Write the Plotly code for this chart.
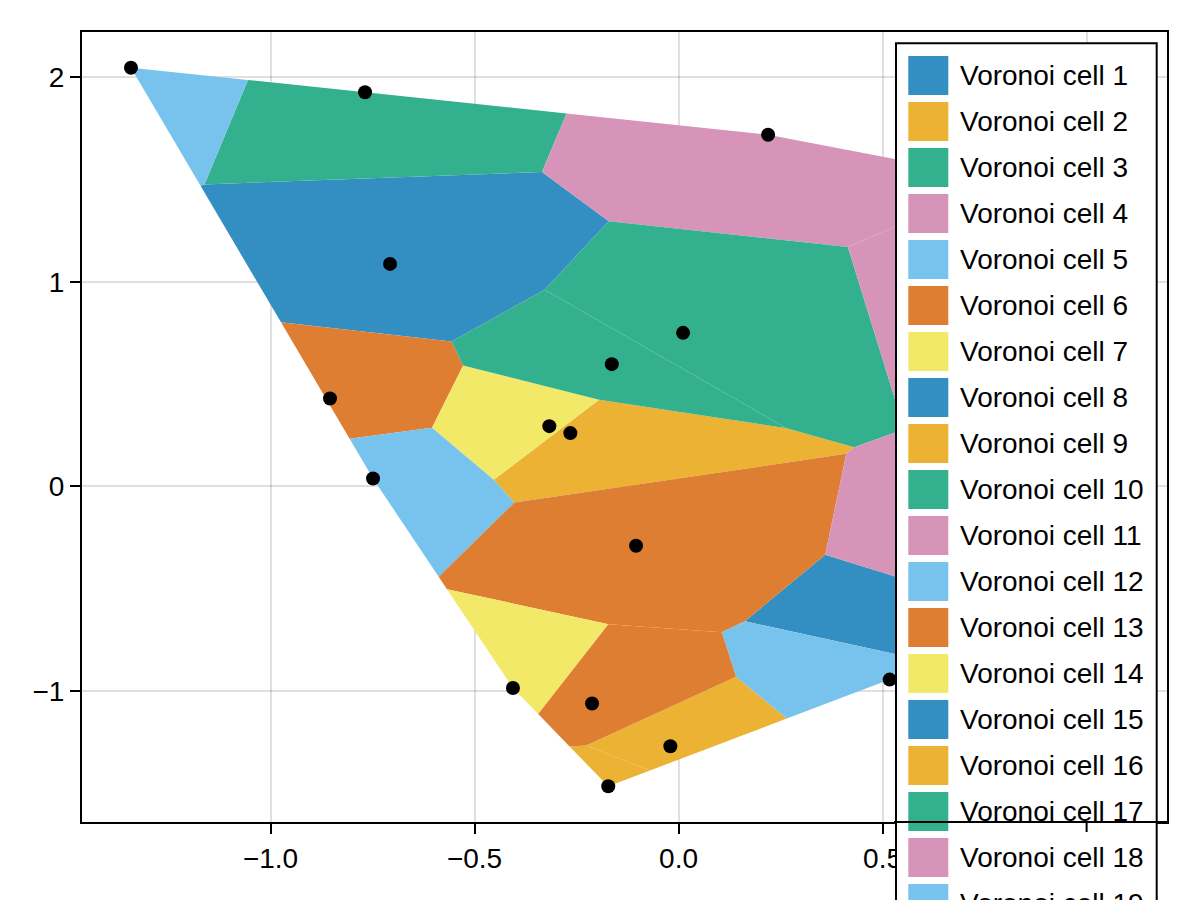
import numpy as np
import plotly.graph_objects as go

# ---- data ----
cell_x = [-0.7071, -0.2652, -0.7684, 0.2194, -1.342, -0.8542, -0.3167, 0.613, -0.0201, 0.0110,
          0.927, -0.7488, -0.1042, -0.4059, 1.0765, -0.1723, -0.1637, 0.822, 0.5172, -0.2120]
cell_y = [1.088, 0.261, 1.927, 1.719, 2.047, 0.430, 0.295, -0.724, -1.270, 0.751,
          0.893, 0.039, -0.290, -0.985, 1.393, -1.4655, 0.598, -0.387, -0.944, -1.061]
labels = [f"Voronoi cell {i}" for i in range(1, len(cell_x) + 1)]
palette = ["#338EC1", "#EBB233", "#33B18F", "#D694B9", "#78C3ED", "#DD7E33", "#F3E968"]
x_tickvals = [-1.0, -0.5, 0.0, 0.5, 1.0]
x_ticktext = ["\u22121.0", "\u22120.5", "0.0", "0.5", "1.0"]
y_tickvals = [-1, 0, 1, 2]
y_ticktext = ["\u22121", "0", "1", "2"]

FONT = "Liberation Sans, Arial, sans-serif"
W, H = 1200, 900
OFF = 8  # page body margin of the browser
# plot area wanted on screen: x 82..1167, y 32..822
SX0, SX1, SY0, SY1 = 82, 1167, 32, 822
L, T = SX0 - OFF, SY0 - OFF
R, B = W - (SX1 - OFF), H - (SY1 - OFF)
PW, PH = W - L - R, H - T - B


def px2paper_x(px):
    return (px - SX0) / PW


def px2paper_y(py):
    return (SY1 - py) / PH


def convex_hull(pts):
    pts = sorted(map(tuple, pts))

    def cross(o, a, b):
        return (a[0] - o[0]) * (b[1] - o[1]) - (a[1] - o[1]) * (b[0] - o[0])

    lower, upper = [], []
    for p in pts:
        while len(lower) >= 2 and cross(lower[-2], lower[-1], p) <= 0:
            lower.pop()
        lower.append(p)
    for p in reversed(pts):
        while len(upper) >= 2 and cross(upper[-2], upper[-1], p) <= 0:
            upper.pop()
        upper.append(p)
    return [np.array(p) for p in lower[:-1] + upper[:-1]]


def clip(poly, n, c):
    out = []
    k = len(poly)
    for i in range(k):
        P, Q = poly[i], poly[(i + 1) % k]
        fp, fq = P @ n - c, Q @ n - c
        if fp <= 0:
            out.append(P)
        if fp * fq < 0:
            t = fp / (fp - fq)
            out.append(P + t * (Q - P))
    return out


pts = np.column_stack([cell_x, cell_y])
hull = convex_hull(pts)

fig = go.Figure()
for i, p in enumerate(pts):
    poly = list(hull)
    for j, q in enumerate(pts):
        if i == j:
            continue
        n = q - p
        m = (p + q) / 2
        poly = clip(poly, n, m @ n)
        if not poly:
            break
    xs = [v[0] for v in poly] + [poly[0][0]]
    ys = [v[1] for v in poly] + [poly[0][1]]
    col = palette[i % len(palette)]
    fig.add_trace(go.Scatter(x=xs, y=ys, mode="lines", fill="toself", fillcolor=col,
                             line=dict(width=0, color=col), hoverinfo="skip",
                             showlegend=False, name=labels[i]))

fig.add_trace(go.Scatter(x=cell_x, y=cell_y, mode="markers",
                         marker=dict(color="black", size=14, line=dict(width=0)),
                         showlegend=False, hoverinfo="skip"))

# ---- legend drawn by hand (it runs past the bottom of the figure) ----
shapes = []
annotations = []
leg_left, leg_right, leg_top = 896, 1156.7, 43.3
row_h, sw_top0, sw_h = 46, 56, 39
leg_bottom = sw_top0 + row_h * (len(labels) - 1) + sw_h + 13
shapes.append(dict(type="rect", xref="paper", yref="paper", layer="above",
                   x0=px2paper_x(leg_left), x1=px2paper_x(leg_right),
                   y0=px2paper_y(leg_bottom), y1=px2paper_y(leg_top),
                   line=dict(color="black", width=2), fillcolor="white"))
for i, lab in enumerate(labels):
    top = sw_top0 + row_h * i
    shapes.append(dict(type="rect", xref="paper", yref="paper", layer="above",
                       x0=px2paper_x(908.3), x1=px2paper_x(948.3),
                       y0=px2paper_y(top + sw_h), y1=px2paper_y(top),
                       line=dict(width=0), fillcolor=palette[i % len(palette)]))
    annotations.append(dict(xref="paper", yref="paper", x=px2paper_x(958),
                            y=px2paper_y(top + sw_h / 2), xanchor="left", yanchor="middle",
                            text=lab, showarrow=False,
                            font=dict(family=FONT, size=28, color="black")))
# bottom spine and the 1.0 tick lie on top of the legend
shapes.append(dict(type="line", xref="paper", yref="paper", layer="above",
                   x0=px2paper_x(leg_left - 2), x1=1, y0=0, y1=0,
                   line=dict(color="black", width=2)))
shapes.append(dict(type="line", xref="x", yref="paper", layer="above",
                   x0=1.0, x1=1.0, y0=0, y1=-10 / PH,
                   line=dict(color="black", width=2)))

axis_common = dict(showgrid=True, gridcolor="rgba(0,0,0,0.12)", gridwidth=2,
                   showline=True, linecolor="black", linewidth=2, mirror=True,
                   ticks="outside", ticklen=10, tickwidth=2, tickcolor="black",
                   zeroline=False, tickfont=dict(family=FONT, size=28, color="black"))

fig.update_layout(
    width=W, height=H,
    margin=dict(l=L, r=R, t=T, b=B, pad=0),
    plot_bgcolor="white", paper_bgcolor="white",
    xaxis=dict(range=[-1.462, 1.197], tickvals=x_tickvals, ticktext=x_ticktext, **axis_common),
    yaxis=dict(range=[-1.640, 2.2215], tickvals=y_tickvals, ticktext=y_ticktext, **axis_common),
    shapes=shapes, annotations=annotations, showlegend=False,
)

fig.write_html("out.html")
